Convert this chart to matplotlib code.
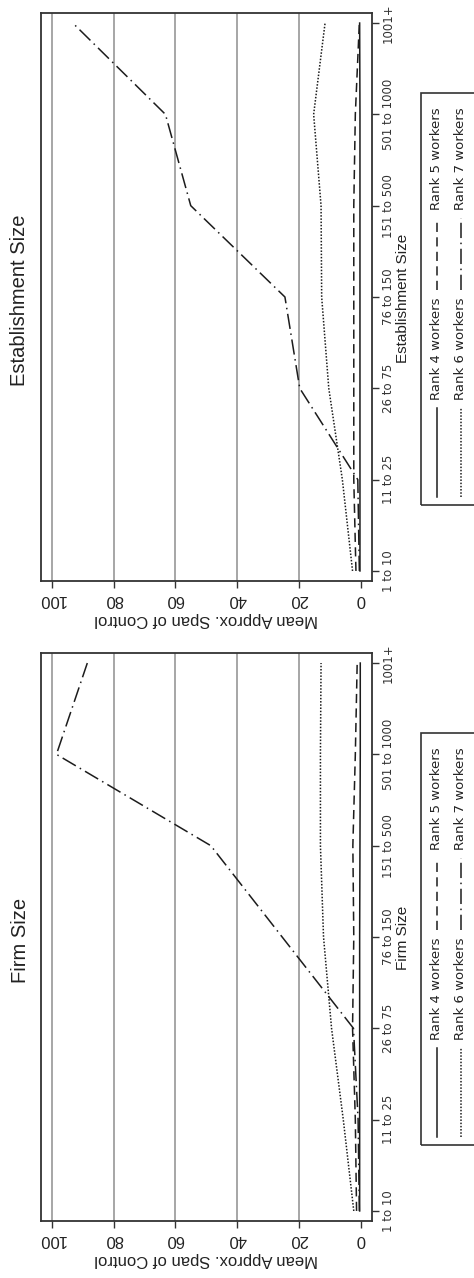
import matplotlib
matplotlib.use("Agg")
import matplotlib.pyplot as plt
from matplotlib.lines import Line2D
from matplotlib.patches import Rectangle

# ---------------- data ----------------
categories = ["1 to 10", "11 to 25", "26 to 75", "76 to 150",
              "151 to 500", "501 to 1000", "1001+"]
series_names = ["Rank 4 workers", "Rank 5 workers", "Rank 6 workers", "Rank 7 workers"]

est_rank4 = [0.2, 0.2, 0.2, 0.2, 0.2, 0.2, 0.3]
est_rank5 = [1.5, 2.2, 2.2, 2.2, 2.2, 1.7, 0.4]
est_rank6 = [2.6, 5.9, 10.3, 12.6, 12.8, 15.2, 11.5]
est_rank7 = [0.4, 0.9, 19.7, 24.5, 55.0, 63.2, 93.2]

firm_rank4 = [0.3, 0.3, 0.3, 0.3, 0.2, 0.1, 0.1]
firm_rank5 = [1.3, 1.7, 2.6, 2.2, 2.5, 1.7, 1.1]
firm_rank6 = [2.2, 5.6, 9.4, 12.0, 13.0, 13.0, 12.8]
firm_rank7 = [0.4, 0.8, 2.3, 25.4, 48.5, 98.5, 88.5]

value_ticks = [0, 20, 40, 60, 80, 100]
grid_values = [20, 40, 60, 80, 100]

panel_titles = ["Establishment Size", "Firm Size"]
panel_data = [[est_rank4, est_rank5, est_rank6, est_rank7],
              [firm_rank4, firm_rank5, firm_rank6, firm_rank7]]
value_label = "Mean Approx. Span of Control"

# ---------------- styling ----------------
W, H = 474, 1278
INK = "#1c1c1c"
styles = [dict(ls="-", lw=1.1),
          dict(ls=(0, (6, 3.5)), lw=1.1),
          dict(ls=(0, (1, 1.1)), lw=1.1),
          dict(ls=(0, (10, 3, 1, 3)), lw=1.1)]
SANS = "Liberation Sans"

fig = plt.figure(figsize=(W / 100, H / 100), dpi=100)
fig.patch.set_facecolor("white")


def fx(x):
    return x / W


def fy(y):
    return 1 - y / H


offsets = [0, 640]
idx = list(range(len(categories)))

for title, data, off in zip(panel_titles, panel_data, offsets):
    top, bot = 13 + off, 581 + off
    ax = fig.add_axes([fx(41), fy(bot), fx(372) - fx(41), (bot - top) / H])
    ax.set_xlim(103.5, -3.7)
    ax.set_ylim(-0.11, 6.11)
    for g in grid_values:
        ax.axvline(g, color="#8e8e8e", lw=1.1, zorder=1)
    for vals, st in zip(data, styles):
        ax.plot(vals, idx, color=INK, zorder=3, **st)
    for sp in ax.spines.values():
        sp.set_color("#333333")
        sp.set_linewidth(1.3)
    ax.set_xticks(value_ticks)
    ax.set_xticklabels([str(v) for v in value_ticks], rotation=180,
                       fontsize=12, family=SANS, color="#222222")
    ax.tick_params(axis="x", length=5, width=1, pad=3, color="#333333")
    ax.yaxis.tick_right()
    ax.set_yticks(idx)
    ax.set_yticklabels(categories, rotation=90, fontsize=8.5, va="center",
                       color="#333333")
    ax.tick_params(axis="y", length=5, width=1, pad=2, color="#333333")

    fig.text(fx(20), fy(300 + off), title, rotation=90, ha="center",
             va="center", fontsize=14.5, family=SANS, color="#222222")
    fig.text(fx(403), fy(298 + off), title, rotation=90, ha="center",
             va="center", fontsize=11, family=SANS, color="#222222")
    fig.text(fx(206), fy(620 + off), value_label, rotation=180, ha="center",
             va="center", fontsize=12, family=SANS, color="#222222")

    # legend (drawn rotated, like the rest of the figure)
    rect = Rectangle((fx(421), fy(505 + off)), fx(495) - fx(421),
                     (505 - 93) / H, transform=fig.transFigure, fill=False,
                     lw=1.2, ec="#333333", clip_on=False)
    fig.add_artist(rect)
    entries = [(437, 497, 408, 400), (437, 290, 218, 210),
               (461, 497, 408, 400), (461, 290, 218, 210)]
    for name, st, (x, y0, y1, ty) in zip(series_names, styles, entries):
        fig.add_artist(Line2D([fx(x), fx(x)], [fy(y0 + off), fy(y1 + off)],
                              transform=fig.transFigure, color=INK, **st))
        fig.text(fx(x), fy(ty + off), name, rotation=90,
                 rotation_mode="anchor", ha="left", va="center",
                 fontsize=9.5, color="#222222")

fig.savefig("out.png", dpi=100)
